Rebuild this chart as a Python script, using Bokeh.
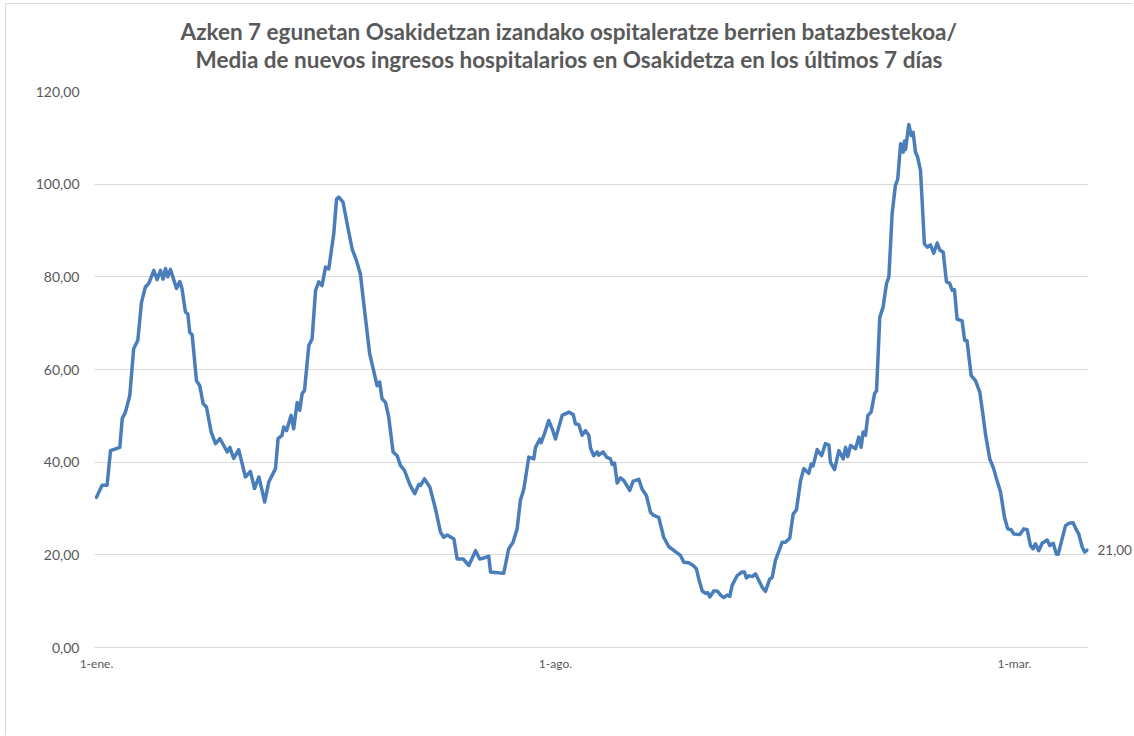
from bokeh.plotting import figure
from bokeh.models import Range1d, FixedTicker, Title, LinearAxis
from bokeh.embed import file_html
from bokeh.resources import INLINE

# days since 1 Jan 2021 and 7-day mean of new admissions
days = [0, 2.6, 4.9, 6.5, 10.8, 11.9, 13.4, 15.4, 17.2, 19.1, 20.8, 22.6, 24.2, 26.5, 28, 29.6,
        30.8, 31.9, 32.9, 34.2, 37, 38.5, 39.5, 41.1, 42.2, 43.1, 44.2, 46.2, 47.7, 49.3, 50.8,
        53, 55, 57, 58.8, 60.4, 61.6, 63.4, 65.7, 68.8, 71.1, 73, 75, 76.5, 77.7, 79.6, 82.7,
        83.9, 85.7, 86.5, 87.8, 89.9, 91.1, 92.7, 93.9, 95, 96.1, 98.1, 99.6, 101.2, 102.7,
        104.2, 105.8, 107.3, 109.6, 110.9, 111.9, 113.9, 116.1, 118.1, 120.1, 121.9, 124.2,
        126.2, 128, 129.6, 130.8, 131.9, 133.5, 135, 137, 138.9, 140.4, 142.3, 144.7, 147,
        148.9, 149.7, 151.5, 154, 156.6, 158.9, 160.4, 162, 165.1, 166.6, 169.4, 172, 175.1,
        177, 178.9, 181.2, 182, 184.3, 188.1, 190.4, 192.4, 194.3, 195.8, 197.4, 199.7, 202,
        202.8, 204.8, 205.4, 206.9, 208.9, 210.5, 212, 215.1, 218.2, 220.2, 221.2, 222.8,
        224.3, 225.9, 227.4, 228.2, 229.7, 231.3, 232, 234, 235.6, 237.4, 238.2, 239.3, 240.5,
        242, 243.6, 246.3, 247.9, 250.5, 252, 254, 255.9, 257.4, 259.7, 262, 264.3, 267.4,
        269.7, 271.3, 273.6, 275.6, 277.1, 278.2, 279.8, 281.3, 282.4, 283.3, 285.1, 286.7,
        288.5, 289.7, 291.3, 292.5, 293.6, 295.9, 298.2, 299.3, 300.2, 301.3, 302.9, 304.4,
        305.9, 307.5, 309, 311, 312.1, 313.6, 315.6, 316.7, 318.2, 320.2, 321.8, 323.3, 325.2,
        326.7, 329, 330.1, 331, 332.9, 334.9, 336.7, 338.3, 339, 340.9, 342.9, 344.9, 346, 347,
        348.3, 350.6, 352.1, 353.2, 354.1, 355.2, 356.3, 357.8, 359.4, 360.3, 361.8, 363.3,
        364.9, 366, 367.5, 369, 370.1, 371.4, 372.6, 373.2, 373.7, 375.2, 376.3, 377.2, 378.3,
        379.3, 380.6, 381.6, 382.4, 383.9, 385.2, 386.7, 388.3, 389.5, 391.1, 392.6, 394.1,
        395.2, 396.3, 397.5, 399.8, 401, 402.1, 404, 406, 408, 409.5, 410.6, 412.6, 414.4,
        415.7, 417.6, 419.4, 420.9, 422.5, 423.7, 426.5, 428.3, 429.9, 431.4, 432.6, 433.7,
        435.2, 436.8, 439.1, 440.3, 441.9, 443.4, 444.2, 445.6, 447.6, 449.1, 451.1, 452.7,
        453.7, 455.3, 456.4, 457.6]
values = [32.4, 35, 35, 42.5, 43.2, 49.4, 50.8, 54.4, 64.5, 66.3, 74.5, 77.8, 78.6, 81.4, 79.4,
          81.4, 79.5, 81.8, 80, 81.6, 77.5, 79, 77.5, 72.4, 72, 68, 67.5, 57.6, 56.5, 52.6, 51.9,
          46.5, 44, 45.1, 43.6, 42.2, 43.2, 40.8, 42.7, 36.8, 38, 34.3, 36.8, 33.9, 31.4, 35.7,
          38.6, 45.1, 45.8, 47.6, 46.8, 50.1, 47.2, 52.9, 51.2, 54.8, 55.5, 65.2, 66.6, 77.1,
          78.9, 78.1, 82.1, 81.7, 89.3, 96.8, 97.2, 96.1, 90.7, 86, 83.5, 80.6, 71.3, 63.4, 59.8,
          56.5, 57.3, 53.7, 52.9, 49.7, 42.2, 41.4, 39.3, 38.2, 35.2, 33.2, 35.2, 35, 36.4, 34.6,
          29.9, 24.9, 23.8, 24.3, 23.4, 19.1, 19.1, 17.7, 20.9, 19.1, 19.3, 19.7, 16.3, 16.2,
          16, 21.3, 22.7, 25.6, 31.7, 34.2, 41.1, 40.7, 43.2, 45, 44.2, 46.1, 49, 47.2, 45, 50.1,
          50.8, 50.3, 48.3, 48.1, 45.8, 46.8, 45.8, 43, 41.4, 42.2, 41.5, 42.2, 41.1, 40.7, 39.5,
          39.8, 35.5, 36.6, 36, 33.9, 35.9, 36.3, 34.2, 32.8, 29.2, 28.5, 28.1, 23.8, 21.8, 20.7,
          19.9, 18.4, 18.3, 17.7, 17, 14.8, 12.2, 11.7, 11.8, 10.9, 12.2, 12.2, 11.2, 10.8, 11.3,
          11, 13.4, 15.5, 16.3, 16.3, 15, 15.5, 15.3, 15.9, 14.5, 13, 12.1, 14.8, 15.1, 18.8,
          21.3, 22.7, 22.7, 23.6, 28.8, 29.7, 36, 38.6, 37.6, 39.6, 39.2, 42.7, 41.4, 44, 43.7,
          40, 38.4, 42.5, 40.7, 43.2, 41.2, 43.6, 42.9, 45.4, 43.2, 46.5, 45.8, 50.1, 50.8, 54.8,
          55.4, 71.3, 73.4, 78.5, 80, 93.6, 99.7, 101.1, 108.7, 106.9, 109.3, 107.5, 112.9,
          110.5, 111.2, 106.9, 105.8, 103, 94.3, 87.1, 86.4, 86.9, 85.1, 87.3, 85.8, 85.3, 78.9,
          78.6, 77.1, 77.2, 70.9, 70.5, 66.3, 66.2, 58.7, 57.6, 55.1, 50.1, 46.1, 40.7, 38.6,
          36.4, 33.5, 28.1, 25.6, 25.4, 24.5, 24.4, 25.6, 25.4, 22, 21.3, 22.4, 20.9, 22.5, 23.2,
          22, 22.5, 20.1, 20.1, 22.7, 26.3, 26.8, 26.9, 25.3, 24.5, 21.7, 20.6, 21]

x_ticks = [0, 212, 424]
x_tick_labels = ["1-ene.", "1-ago.", "1-mar."]
y_ticks = [0, 20, 40, 60, 80, 100, 120]
y_tick_labels = ["0,00", "20,00", "40,00", "60,00", "80,00", "100,00", "120,00"]
title_lines = ["Azken 7 egunetan Osakidetzan izandako ospitaleratze berrien batazbestekoa/",
               "Media de nuevos ingresos hospitalarios en Osakidetza en los últimos 7 días"]
last_label = "21,00"

TXT = "#595959"
GRID = "#d9d9d9"
LINE = "#4a7ebb"
FONT = "Lato"

p = figure(width=1128, height=732, output_backend="svg", toolbar_location=None,
           x_range=Range1d(-0.9, 458.2), y_range=Range1d(0, 120),
           min_border_left=88, min_border_right=46, min_border_top=87, min_border_bottom=89)
p.title = None
p.outline_line_color = None
p.background_fill_color = "white"
p.border_fill_color = "white"

t2 = Title(text=title_lines[1], align="left", offset=101, text_font=FONT,
           text_font_size="22.5px", text_font_style="bold", text_color=TXT, standoff=38)
t1 = Title(text=title_lines[0], align="left", offset=86, text_font=FONT,
           text_font_size="22.5px", text_font_style="bold", text_color=TXT, standoff=-40)
p.add_layout(t2, "above")
p.add_layout(t1, "above")

p.line(days, values, line_color=LINE, line_width=3.5, line_join="round", line_cap="round")

p.yaxis.ticker = FixedTicker(ticks=y_ticks)
p.yaxis.major_label_overrides = {t: l for t, l in zip(y_ticks, y_tick_labels)}
p.yaxis.axis_line_color = None
p.yaxis.major_tick_line_color = None
p.yaxis.minor_tick_line_color = None
p.yaxis.major_label_standoff = 9
p.yaxis.major_label_text_font = FONT
p.yaxis.major_label_text_font_size = "14px"
p.yaxis.major_label_text_color = TXT

p.xaxis.ticker = FixedTicker(ticks=x_ticks)
p.xaxis.major_label_overrides = {t: l for t, l in zip(x_ticks, x_tick_labels)}
p.xaxis.axis_line_color = GRID
p.xaxis.major_tick_line_color = None
p.xaxis.minor_tick_line_color = None
p.xaxis.major_label_standoff = 2
p.xaxis.major_label_text_font = FONT
p.xaxis.major_label_text_font_size = "12px"
p.xaxis.major_label_text_color = TXT

# data label of the last point, drawn as a one-tick axis on the right
last_axis = LinearAxis(ticker=FixedTicker(ticks=[values[-1]]),
                       major_label_overrides={values[-1]: last_label})
last_axis.axis_line_color = None
last_axis.major_tick_line_color = None
last_axis.minor_tick_line_color = None
last_axis.major_label_standoff = 3
last_axis.major_label_text_font = FONT
last_axis.major_label_text_font_size = "13.5px"
last_axis.major_label_text_color = TXT
p.add_layout(last_axis, "right")

p.ygrid.ticker = FixedTicker(ticks=y_ticks)
p.ygrid.grid_line_color = GRID
p.ygrid.grid_line_width = 1
p.xgrid.grid_line_color = None

p.styles = {"margin-left": "5px", "margin-top": "3px",
            "border-left": "1px solid #d9d9d9", "border-top": "1px solid #d9d9d9"}

open("out.html", "w").write(file_html(p, INLINE))
